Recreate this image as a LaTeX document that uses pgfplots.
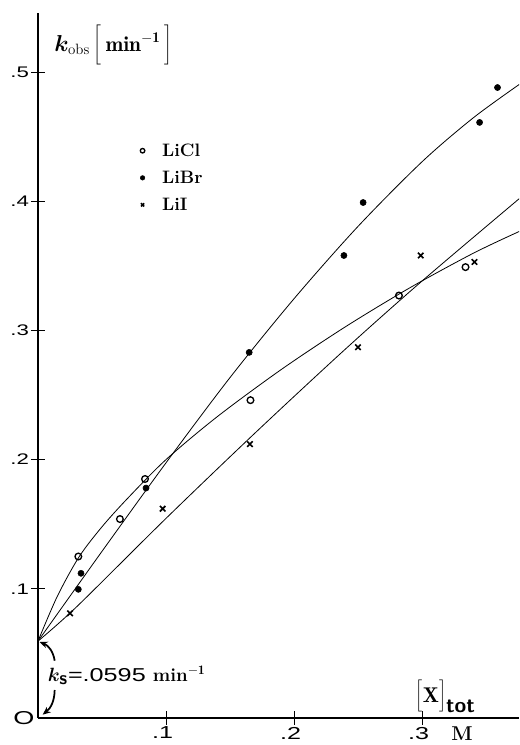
\documentclass[border=0pt]{standalone}
\usepackage{fontspec}
\usepackage{bm}
\usepackage{pgfplots}
\pgfplotsset{compat=1.18}
\usetikzlibrary{arrows.meta}
\newfontfamily\numfont[FakeStretch=1.45]{Liberation Sans}
\newfontfamily\numfontb[FakeStretch=1.35]{Liberation Sans}
\newcommand\labfont{\bfseries\addfontfeatures{LetterSpace=9}}
\begin{document}
\begin{tikzpicture}
\begin{axis}[
  at={(0,0)}, anchor=south west,
  scale only axis, width=360.75pt, height=528.75pt,
  xmin=0, xmax=0.3758, ymin=0, ymax=0.5457,
  axis lines=left, axis line style={-, line width=0.9pt},
  tick align=center, major tick length=10.5pt,
  tick style={line width=0.7pt, black},
  xtick={0.1,0.2,0.3}, xticklabels={\llap{.}1,\llap{.}2,\llap{.}3},
  ytick={0.1,0.2,0.3,0.4,0.5}, yticklabels={.1,.2,.3,.4,.5},
  xticklabel style={font=\numfont\fontsize{13}{14}\selectfont, anchor=north, yshift=2pt},
  yticklabel style={font=\numfont\fontsize{11.5}{12}\selectfont, anchor=east, xshift=2pt},
  clip=true,
  legend style={at={(axis cs:0.0795,0.447)}, anchor=north west, draw=none, fill=none,
     font=\labfont\fontsize{13.5}{15}\selectfont, row sep=5.5pt, inner sep=0pt},
  legend cell align=left,
  legend image code/.code={\draw[#1, mark size=1.7pt] plot coordinates {(0.06cm,0cm)};
     \path (0cm,0cm) (0.5cm,0cm);},
]
% fitted curves
\addplot[smooth, line width=0.6pt, forget plot] coordinates {
 (0,0.0595) (0.015,0.0940) (0.032,0.1246) (0.05,0.148) (0.07,0.170) (0.1,0.200)
 (0.14,0.2332) (0.19,0.2697) (0.24,0.3027) (0.29,0.3327) (0.34,0.3597) (0.376,0.3766)};
\addplot[smooth, line width=0.6pt, forget plot] coordinates {
 (0,0.0595) (0.05,0.129) (0.1,0.1975) (0.15,0.2635) (0.2,0.3245) (0.25,0.3805)
 (0.3,0.4305) (0.34,0.4645) (0.376,0.4904)};
\addplot[smooth, line width=0.6pt, forget plot] coordinates {
 (0,0.0595) (0.03,0.0859) (0.1,0.1545) (0.17,0.221) (0.24,0.2854) (0.3,0.3382) (0.376,0.402)};
% data
\addplot[only marks, mark=o, mark size=2.5pt, mark options={line width=1pt}] coordinates {
 (0.0315,0.125) (0.064,0.154) (0.0836,0.185) (0.166,0.246) (0.282,0.327) (0.334,0.349)};
\addlegendentry{LiCl}
\addplot[only marks, mark=*, mark size=2.3pt] coordinates {
 (0.0315,0.0996) (0.0336,0.112) (0.0844,0.178) (0.165,0.283) (0.239,0.358)
 (0.254,0.399) (0.345,0.461) (0.359,0.488)};
\addlegendentry{LiBr}
\addplot[only marks, mark=x, mark size=2.9pt, mark options={line width=1.2pt}] coordinates {
 (0.025,0.081) (0.0974,0.162) (0.1656,0.212) (0.25,0.287) (0.299,0.358) (0.341,0.353)};
\addlegendentry{LiI}
% labels
\node[anchor=west, inner sep=0pt, font=\fontsize{16}{18}\selectfont] at (axis cs:0.0125,0.521)
  {$\bm{k}_{\mathrm{obs}}\left[\rule[-8pt]{0pt}{28pt}\,\mathbf{min}^{\mathbf{-1}}\,\right]$};
\node[anchor=west, inner sep=0pt, font=\fontsize{16}{18}\selectfont] at (axis cs:0.295,0.0168)
  {$\left[\rule[-5pt]{0pt}{22pt}\mathbf{X}\right]_{\textsf{\bfseries tot}}$};
\node[anchor=base west, inner sep=0pt, font=\fontsize{14}{16}\selectfont] at (axis cs:0.0075,0.028)
  {$\bm{k}_{\textsf{\bfseries s}}$\numfontb\fontsize{14}{16}\selectfont=.0595 \rmfamily\bfseries min$^{\mathbf{-1}}$};
\end{axis}
\node[font=\numfont\fontsize{14}{16}\selectfont] at (-10.5pt,0pt) {O};
\node[anchor=base, font=\bfseries\fontsize{15}{17}\selectfont] at (318pt,-17pt) {M};
\draw[line width=1.3pt, -{Stealth[length=6pt,width=5pt]}] (12.5pt,43pt) to[bend right=30] (1.2pt,57pt);
\draw[line width=1.3pt, -{Stealth[length=6pt,width=5pt]}] (12.5pt,21pt) to[bend left=25] (3.5pt,2.5pt);
\pgfresetboundingbox
\path[use as bounding box] (-28.5pt,-20.25pt) rectangle (360.75pt,538.5pt);
\end{tikzpicture}
\end{document}
